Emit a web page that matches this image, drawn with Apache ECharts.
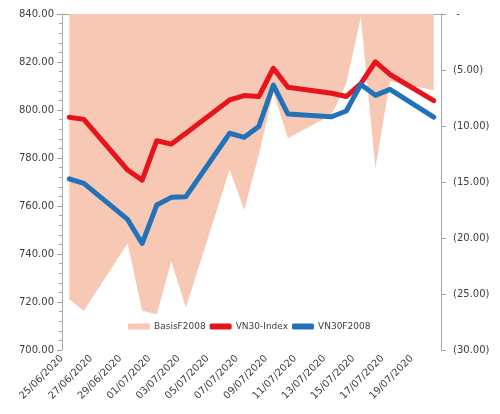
<!DOCTYPE html>
<html>
<head>
<meta charset="utf-8">
<script src="https://cdn.jsdelivr.net/npm/echarts@6/dist/echarts.min.js"></script>
<style>
html,body{margin:0;padding:0;background:#fff;}
#chart{width:500px;height:414px;}
</style>
</head>
<body>
<div id="chart"></div>
<script>
// Trading dates
const dates = ['25/06/2020','26/06/2020','29/06/2020','30/06/2020','01/07/2020','02/07/2020','03/07/2020',
  '06/07/2020','07/07/2020','08/07/2020','09/07/2020','10/07/2020','13/07/2020','14/07/2020',
  '15/07/2020','16/07/2020','17/07/2020','20/07/2020'];
const vn30Index = [797.0, 796.1, 775.0, 770.8, 787.2, 785.8, 790.3, 804.2, 806.0, 805.6, 817.4, 809.5, 807.0, 805.6, 811.0, 820.1, 814.8, 803.9];
const vn30F2008 = [771.3, 769.4, 754.4, 744.4, 760.4, 763.6, 763.9, 790.3, 788.6, 793.1, 810.4, 798.3, 797.2, 799.6, 810.6, 806.1, 808.6, 797.0];
const basisF2008 = [-25.5, -26.5, -20.5, -26.5, -26.8, -22.1, -26.2, -13.9, -17.5, -12.6, -7.0, -11.1, -9.0, -6.2, -0.3, -13.8, -6.0, -6.8];
const tickLabels = ['25/06/2020','27/06/2020','29/06/2020','01/07/2020','03/07/2020','05/07/2020','07/07/2020',
  '09/07/2020','11/07/2020','13/07/2020','15/07/2020','17/07/2020','19/07/2020'];

function dayNum(s){ const p = s.split('/'); return Date.UTC(+p[2], +p[1]-1, +p[0]) / 86400000; }
const start = dayNum(tickLabels[0]);
const xPos = dates.map(d => dayNum(d) - start + 0.5);
const pairs = arr => arr.map((v,i) => [xPos[i], v]);

const txt = '#404040';
const axisGray = '#a6a6a6';
const font = 'DejaVu Sans';

const chart = echarts.init(document.getElementById('chart'), null, {renderer:'canvas'});
chart.setOption({
  animation:false,
  textStyle:{fontFamily:font},
  grid:{left:62, right:59, top:14, bottom:64},
  legend:{
    left:123, top:317, itemGap:4, itemWidth:22, itemHeight:6,
    textStyle:{color:txt, fontSize:9, fontFamily:font, padding:[0,0,0,-1]},
    data:[
      {name:'BasisF2008', icon:'rect'},
      {name:'VN30-Index', icon:'roundRect'},
      {name:'VN30F2008', icon:'roundRect'}
    ]
  },
  xAxis:{
    type:'value', min:0, max:26, interval:2,
    axisLine:{show:true, lineStyle:{color:axisGray}},
    axisTick:{show:true, length:5, lineStyle:{color:axisGray}},
    splitLine:{show:false},
    axisLabel:{
      rotate:45, color:txt, fontSize:10, margin:7, fontFamily:font,
      showMaxLabel:false,
      formatter: v => tickLabels[Math.round(v/2)] || ''
    }
  },
  yAxis:[
    {
      type:'value', min:700, max:840, interval:20, position:'left',
      axisLine:{show:true, lineStyle:{color:axisGray}},
      axisTick:{show:true, length:5, lineStyle:{color:axisGray}},
      minorTick:{show:true, splitNumber:5, length:3, lineStyle:{color:axisGray}},
      splitLine:{show:false},
      axisLabel:{color:txt, fontSize:10, margin:8, fontFamily:font, formatter: v => v.toFixed(2)}
    },
    {
      type:'value', min:-30, max:0, interval:5, position:'right',
      axisLine:{show:true, lineStyle:{color:axisGray}},
      axisTick:{show:true, length:5, lineStyle:{color:axisGray}},
      splitLine:{show:false},
      axisLabel:{color:txt, fontSize:10, margin:12, fontFamily:font, align:'left',
        formatter: v => v === 0 ? ' -' : '(' + Math.abs(v).toFixed(2) + ')'}
    }
  ],
  series:[
    {
      name:'BasisF2008', type:'line', yAxisIndex:1, data:pairs(basisF2008),
      symbol:'none', lineStyle:{width:0, color:'#f7c9b4'},
      itemStyle:{color:'#f7c9b4'},
      areaStyle:{color:'#f7c9b4', opacity:1, origin:'end'}, z:1
    },
    {
      name:'VN30-Index', type:'line', yAxisIndex:0, data:pairs(vn30Index),
      symbol:'none', itemStyle:{color:'#e8141b'},
      lineStyle:{width:5, color:'#e8141b', cap:'round', join:'round'}, z:3
    },
    {
      name:'VN30F2008', type:'line', yAxisIndex:0, data:pairs(vn30F2008),
      symbol:'none', itemStyle:{color:'#2272b9'},
      lineStyle:{width:5, color:'#2272b9', cap:'round', join:'round'}, z:4
    }
  ]
});
</script>
</body>
</html>
